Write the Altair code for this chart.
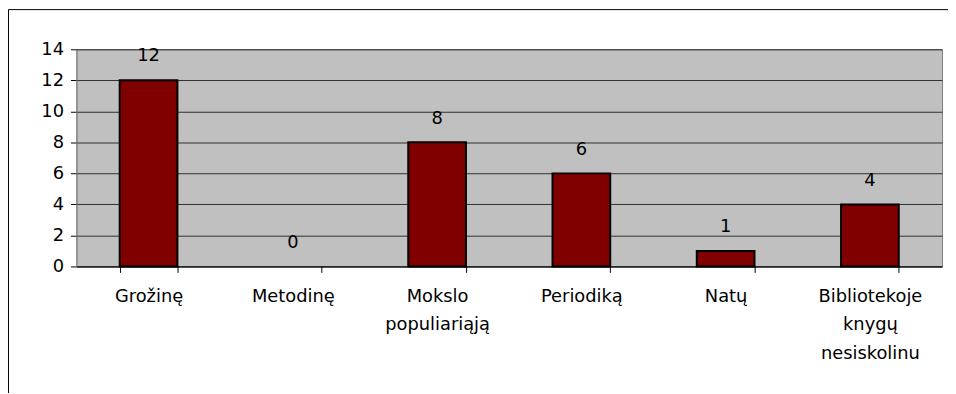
import altair as alt
import pandas as pd

categories = ["Grožinę", "Metodinę", "Mokslo\npopuliariąją", "Periodiką", "Natų",
              "Bibliotekoje\nknygų\nnesiskolinu"]
values = [12, 0, 8, 6, 1, 4]
y_ticks = [0, 2, 4, 6, 8, 10, 12, 14]

df = pd.DataFrame({"cat": categories, "val": values})

FONT = "DejaVu Sans"

x_enc = alt.X(
    "cat:N", sort=None, title=None,
    scale=alt.Scale(domain=categories, paddingInner=0.6, paddingOuter=0.3),
    axis=alt.Axis(labelAngle=0, labelExpr="split(datum.label, '\\n')",
                  labelLineHeight=29, labelPadding=15, tickBand="extent",
                  tickSize=6, tickColor="#000000", domainColor="#000000",
                  labelFont=FONT, labelFontSize=18, labelColor="#000000",
                  grid=False, labelBaseline="top", labelOverlap=False),
)
y_enc = alt.Y(
    "val:Q", title=None,
    scale=alt.Scale(domain=[0, 14], nice=False, zero=True),
    axis=alt.Axis(values=y_ticks, tickCount=8, labelOverlap=False, labelFlush=False,
                  tickSize=6, tickColor="#000000",
                  domainColor="#808080", labelPadding=7,
                  labelFont=FONT, labelFontSize=18, labelColor="#000000",
                  grid=True, gridColor="#303030", gridWidth=1),
)

bars = alt.Chart(df).transform_filter("datum.val > 0").mark_bar(
    color="#800000", stroke="#000000", strokeWidth=2).encode(x=x_enc, y=y_enc)
labels = alt.Chart(df).mark_text(dy=-19, baseline="alphabetic", font=FONT,
                                 fontSize=18, color="#000000").encode(
    x=alt.X("cat:N", sort=None), y="val:Q", text="val:Q"
)

frame_data = alt.Data(values=[{"k": 1}])
frame_top = alt.Chart(frame_data).mark_rule(color="#000000", strokeWidth=1).encode(
    x=alt.value(-68.5), x2=alt.value(900), y=alt.value(-40)
)
frame_left = alt.Chart(frame_data).mark_rule(color="#000000", strokeWidth=1).encode(
    x=alt.value(-68.5), y=alt.value(-40), y2=alt.value(400)
)

chart = alt.layer(bars, labels, frame_top, frame_left).properties(
    width=873, height=219,
    autosize=alt.AutoSizeParams(type="none"),
    padding={"left": 69, "top": 40, "right": 6, "bottom": 126},
    background="#FFFFFF",
).configure_view(fill="#C0C0C0", stroke="#808080", strokeWidth=1)

chart.save("out.html", embed_options={"renderer": "svg", "actions": False})
